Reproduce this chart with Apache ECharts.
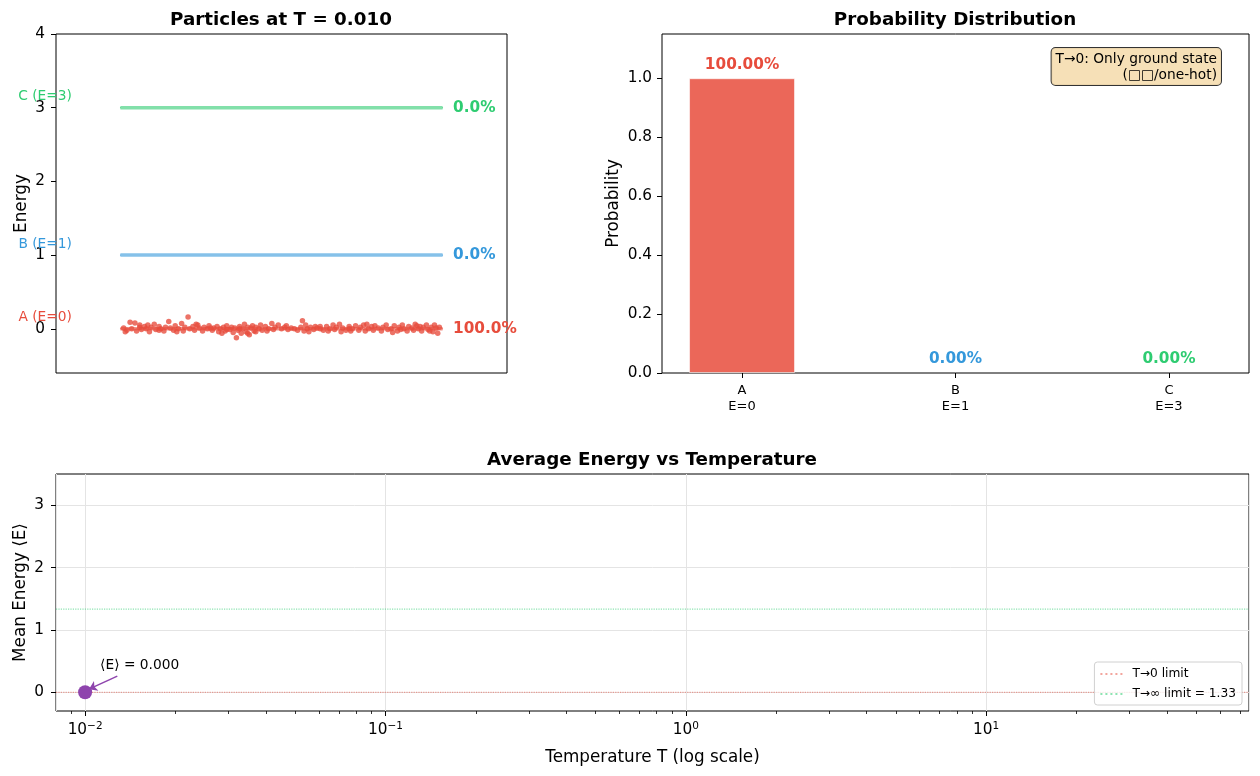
<!DOCTYPE html>
<html>
<head>
<meta charset="utf-8">
<title>Boltzmann T = 0.010</title>
<script src="https://cdn.jsdelivr.net/npm/echarts@6/dist/echarts.min.js"></script>
<style>
  html, body { margin: 0; padding: 0; background: #fff; }
  #main { width: 1260px; height: 776px; }
</style>
</head>
<body>
<div id="main"></div>
<script>
  // 能级
  const levelNames = ['A', 'B', 'C'];
  const levelEnergies = [0, 1, 3];
  const levelProbs = [1.0, 0.0, 0.0];
  const levelColors = ['#e74c3c', '#3498db', '#2ecc71'];

  // 当前温度与平均能量
  const temperature = 0.01;
  const meanEnergy = 0.0;
  const lowTLimit = 0.0;
  const highTLimit = 1.333;

  // 粒子 [x, E + 抖动]
  const particles = [
    [0.01, 0.01], [0.02, -0.02], [0.03, 0.09], [0.035, 0.0], [0.045, 0.08], [0.05, -0.03],
    [0.06, 0.02], [0.065, -0.01], [0.075, 0.03], [0.08, 0.0], [0.09, -0.04], [0.095, 0.02],
    [0.105, 0.06], [0.11, -0.01], [0.12, 0.03], [0.125, 0.0], [0.135, -0.03], [0.14, 0.02],
    [0.15, 0.1], [0.155, 0.01], [0.165, -0.02], [0.17, 0.04], [0.18, 0.0], [0.19, 0.07],
    [0.195, -0.03], [0.2, 0.02], [0.21, 0.16], [0.215, 0.0], [0.225, 0.03], [0.23, -0.02],
    [0.24, 0.05], [0.245, 0.01], [0.255, -0.03], [0.26, 0.02], [0.27, 0.0], [0.275, 0.04],
    [0.285, -0.02], [0.29, 0.01], [0.3, 0.03], [0.305, -0.04], [0.31, 0.0], [0.32, 0.02],
    [0.325, -0.03], [0.33, 0.04], [0.34, -0.01], [0.345, 0.02], [0.35, -0.05], [0.355, 0.01],
    [0.36, -0.12], [0.365, -0.02], [0.37, 0.03], [0.375, -0.06], [0.38, 0.0], [0.385, 0.06],
    [0.39, -0.04], [0.395, 0.02], [0.4, -0.08], [0.405, 0.01], [0.41, 0.04], [0.415, -0.03],
    [0.42, 0.02], [0.43, 0.0], [0.435, 0.05], [0.44, -0.02], [0.45, 0.03], [0.46, 0.0],
    [0.47, 0.07], [0.475, -0.01], [0.48, 0.02], [0.49, 0.05], [0.5, 0.0], [0.51, 0.02],
    [0.52, -0.01], [0.53, 0.01], [0.54, 0.0], [0.55, -0.02], [0.56, 0.02], [0.565, 0.11],
    [0.57, -0.03], [0.575, 0.05], [0.58, 0.0], [0.585, -0.04], [0.59, 0.02], [0.6, -0.01],
    [0.61, 0.01], [0.62, 0.0], [0.63, -0.02], [0.64, 0.03], [0.645, -0.03], [0.65, 0.0],
    [0.66, 0.05], [0.665, -0.01], [0.67, 0.02], [0.68, 0.06], [0.69, 0.01], [0.7, -0.02],
    [0.71, 0.03], [0.715, -0.03], [0.72, 0.0], [0.73, 0.04], [0.74, -0.02], [0.745, 0.02],
    [0.755, 0.05], [0.76, -0.03], [0.77, 0.0], [0.78, 0.03], [0.785, -0.02], [0.79, 0.04],
    [0.8, 0.01], [0.81, -0.03], [0.815, 0.02], [0.825, 0.05], [0.83, -0.01], [0.84, 0.0],
    [0.85, 0.04], [0.86, -0.03], [0.865, 0.02], [0.875, 0.05], [0.88, 0.0], [0.89, -0.03],
    [0.895, 0.03], [0.905, 0.01], [0.91, -0.02], [0.92, 0.04], [0.925, 0.0], [0.935, -0.03],
    [0.94, 0.02], [0.95, 0.05], [0.955, -0.01], [0.965, 0.02], [0.97, -0.04], [0.975, 0.05],
    [0.98, 0.01], [0.985, -0.06], [0.28, 0.01], [0.33, -0.01], [0.37, 0.0], [0.42, -0.04],
    [0.12, -0.02], [0.06, 0.05], [0.62, 0.03], [0.71, 0.0], [0.87, -0.01], [0.93, 0.03],
    [0.015, -0.04], [0.085, 0.05], [0.175, -0.04], [0.235, 0.06], [0.315, -0.06], [0.395, -0.06],
    [0.455, -0.03], [0.515, 0.04], [0.605, 0.03], [0.685, -0.04], [0.765, 0.06], [0.845, -0.05],
    [0.915, 0.06], [0.96, -0.03], [0.99, 0.02]
  ];

  // 刻度
  const energyTicks = [0, 1, 2, 3, 4];
  const probTicks = [0, 0.2, 0.4, 0.6, 0.8, 1.0];
  const meanTicks = [0, 1, 2, 3];
  const tMinorTicks = [
    0.009, 0.02, 0.03, 0.04, 0.05, 0.06, 0.07, 0.08, 0.09,
    0.2, 0.3, 0.4, 0.5, 0.6, 0.7, 0.8, 0.9,
    2, 3, 4, 5, 6, 7, 8, 9, 20, 30, 40, 50, 60, 70
  ];

  const FONT = 'DejaVu Sans';
  const tMin = 0.008, tMax = 75;

  const chart = echarts.init(document.getElementById('main'));

  const tick = { show: true, length: 5, lineStyle: { color: '#000', width: 1 } };
  const label = { color: '#000', fontSize: 15.3, fontFamily: FONT };
  const noLine = { show: false, onZero: false };
  const nameStyle = { fontSize: 16.8, color: '#000', fontFamily: FONT };
  const titleStyle = { fontSize: 18.3, fontWeight: 'bold', color: '#000', fontFamily: FONT };
  const gridBox = { show: true, borderColor: '#000', borderWidth: 1, backgroundColor: '#fff',
    containLabel: false, outerBoundsMode: 'none' };

  const levelSeries = levelEnergies.map((e, i) => ({
    type: 'line',
    xAxisIndex: 0, yAxisIndex: 0,
    symbol: 'circle', symbolSize: 1,
    itemStyle: { color: levelColors[i] },
    lineStyle: { color: levelColors[i], width: 3.5, opacity: 0.6 },
    z: 2,
    silent: true,
    data: [
      { value: [0, e], label: {
          show: true, position: 'left', distance: 48, offset: [0, -11],
          formatter: `${levelNames[i]} (E=${e})`,
          color: levelColors[i], fontSize: 13.75, fontFamily: FONT } },
      { value: [1, e], label: {
          show: true, position: 'right', distance: 10,
          formatter: (levelProbs[i] * 100).toFixed(1) + '%',
          color: levelColors[i], fontSize: 15.3, fontWeight: 'bold', fontFamily: FONT } }
    ]
  }));

  const option = {
    backgroundColor: '#fff',
    animation: false,
    textStyle: { fontFamily: FONT },
    title: [
      { text: 'Particles at T = ' + temperature.toFixed(3), left: 281, top: 11, padding: 0,
        textAlign: 'center', textStyle: titleStyle },
      { text: 'Probability Distribution', left: 955, top: 11, padding: 0,
        textAlign: 'center', textStyle: titleStyle },
      { text: 'Average Energy vs Temperature', left: 652, top: 451, padding: 0,
        textAlign: 'center', textStyle: titleStyle }
    ],
    grid: [
      Object.assign({ left: 56, top: 34, width: 451, height: 339 }, gridBox),
      Object.assign({ left: 662, top: 34, width: 587, height: 339 }, gridBox),
      Object.assign({ left: 56, top: 474, width: 1193, height: 237 }, gridBox)
    ],
    legend: {
      data: ['T→0 limit', 'T→∞ limit = ' + highTLimit.toFixed(2)],
      icon: 'path://M0,0h2v2h-2zM5,0h2v2h-2zM10,0h2v2h-2zM15,0h2v2h-2zM20,0h2v2h-2z',
      orient: 'vertical',
      right: 18, bottom: 71,
      itemWidth: 24, itemHeight: 2, itemGap: 8,
      padding: [6, 6, 5, 6],
      backgroundColor: 'rgba(255,255,255,0.8)',
      borderColor: '#d0d0d0', borderWidth: 1, borderRadius: 3,
      textStyle: { fontSize: 12.2, color: '#000', fontFamily: FONT, padding: [0, 0, 0, 4] }
    },
    xAxis: [
      { gridIndex: 0, type: 'value', min: -0.2, max: 1.2,
        axisLine: noLine, axisTick: { show: false }, axisLabel: { show: false },
        splitLine: { show: false } },
      { gridIndex: 1, type: 'value', min: -0.375, max: 2.375,
        axisLine: noLine,
        axisTick: Object.assign({ customValues: [0, 1, 2] }, tick),
        axisLabel: { customValues: [0, 1, 2], color: '#000', fontSize: 13, lineHeight: 16,
          fontFamily: FONT, margin: 10,
          formatter: v => levelNames[v] + '\nE=' + levelEnergies[v] },
        splitLine: { show: false } },
      { gridIndex: 2, type: 'log', min: tMin, max: tMax, logBase: 10,
        name: 'Temperature T (log scale)', nameLocation: 'middle', nameGap: 38,
        nameMoveOverlap: false,
        nameTextStyle: nameStyle,
        axisLine: noLine,
        axisTick: tick,
        axisLabel: { showMinLabel: false, showMaxLabel: false, margin: 10,
          formatter: v => '{b|10}{s|' + String(Math.round(Math.log10(v))).replace('-', '−') + '}',
          rich: {
            b: { fontSize: 15.3, color: '#000', fontFamily: FONT, lineHeight: 17, verticalAlign: 'bottom' },
            s: { fontSize: 10.5, color: '#000', fontFamily: FONT, verticalAlign: 'top', lineHeight: 11 }
          } },
        splitLine: { show: true, lineStyle: { color: '#e4e4e4', width: 1 } } },
      // 次刻度
      { gridIndex: 2, type: 'log', min: tMin, max: tMax, logBase: 10, position: 'bottom',
        axisLine: noLine, axisLabel: { show: false }, splitLine: { show: false },
        axisTick: { show: true, customValues: tMinorTicks, length: 3,
          lineStyle: { color: '#000', width: 0.8 } } }
    ],
    yAxis: [
      { gridIndex: 0, type: 'value', min: -0.6, max: 4,
        name: 'Energy', nameLocation: 'middle', nameGap: 26, nameMoveOverlap: false,
        nameTextStyle: nameStyle,
        axisLine: noLine,
        axisTick: Object.assign({ customValues: energyTicks }, tick),
        axisLabel: Object.assign({ customValues: energyTicks, margin: 11 }, label),
        splitLine: { show: false } },
      { gridIndex: 1, type: 'value', min: 0, max: 1.15,
        name: 'Probability', nameLocation: 'middle', nameGap: 40, nameMoveOverlap: false,
        nameTextStyle: nameStyle,
        axisLine: noLine,
        axisTick: Object.assign({ customValues: probTicks }, tick),
        axisLabel: Object.assign({ customValues: probTicks, margin: 10,
          formatter: v => v.toFixed(1) }, label),
        splitLine: { show: false } },
      { gridIndex: 2, type: 'value', min: -0.3, max: 3.5,
        name: 'Mean Energy ⟨E⟩', nameLocation: 'middle', nameGap: 27, nameMoveOverlap: false,
        nameTextStyle: nameStyle,
        axisLine: noLine,
        axisTick: Object.assign({ customValues: meanTicks }, tick),
        axisLabel: Object.assign({ customValues: meanTicks, margin: 12 }, label),
        splitLine: { show: true, lineStyle: { color: '#e4e4e4', width: 1 } } }
    ],
    graphic: [
      { type: 'text', right: 38, top: 47, z: 100,
        style: {
          text: '{a|T→0: Only ground state}\n{a|(□□/one-hot)}',
          rich: { a: { align: 'right', fontSize: 13.75, fontFamily: FONT, lineHeight: 16, color: '#000' } },
          fill: '#000',
          backgroundColor: 'rgba(245,222,179,0.95)',
          borderColor: '#333', borderWidth: 1, borderRadius: 4,
          padding: [3, 4, 2, 4]
        } }
    ],
    series: [
      ...levelSeries,
      { type: 'scatter', xAxisIndex: 0, yAxisIndex: 0, z: 3,
        symbolSize: 5.5,
        itemStyle: { color: 'rgba(231,76,60,0.78)', opacity: 1 },
        data: particles },
      { type: 'bar', xAxisIndex: 1, yAxisIndex: 1,
        barWidth: 106,
        data: levelProbs.map((p, i) => ({
          value: [i, p],
          itemStyle: { color: echarts.color.modifyAlpha(levelColors[i], 0.85),
            borderColor: 'rgba(255,255,255,0.6)', borderWidth: p > 0 ? 1 : 0 },
          label: { show: true, position: 'top', distance: 6,
            formatter: (p * 100).toFixed(2) + '%',
            color: levelColors[i], fontSize: 15.3, fontWeight: 'bold', fontFamily: FONT }
        })) },
      { name: 'T→0 limit', type: 'line', xAxisIndex: 2, yAxisIndex: 2,
        symbol: 'none', silent: true,
        itemStyle: { color: 'rgba(231,76,60,0.5)' },
        lineStyle: { color: 'rgba(231,76,60,0.5)', width: 1.2, type: 'dotted' },
        data: [[tMin, lowTLimit], [tMax, lowTLimit]] },
      { name: 'T→∞ limit = ' + highTLimit.toFixed(2), type: 'line', xAxisIndex: 2, yAxisIndex: 2,
        symbol: 'none', silent: true,
        itemStyle: { color: 'rgba(46,204,113,0.55)' },
        lineStyle: { color: 'rgba(46,204,113,0.55)', width: 1.2, type: 'dotted' },
        data: [[tMin, highTLimit], [tMax, highTLimit]] },
      { type: 'scatter', xAxisIndex: 2, yAxisIndex: 2, z: 5,
        symbolSize: 14,
        itemStyle: { color: '#8e44ad', opacity: 1 },
        label: { show: true, position: [22, -27], align: 'left', verticalAlign: 'top',
          formatter: '⟨E⟩ = ' + meanEnergy.toFixed(3),
          color: '#000', fontSize: 13.75, fontFamily: FONT },
        markLine: {
          silent: true, symbol: ['none', 'arrow'], symbolSize: 8,
          label: { show: false },
          lineStyle: { color: '#8e44ad', width: 1.5, type: 'solid' },
          data: [[{ coord: [0.0128, 0.26] }, { coord: [0.0103, 0.05] }]]
        },
        data: [[temperature, meanEnergy]] }
    ]
  };

  chart.setOption(option);
</script>
</body>
</html>
